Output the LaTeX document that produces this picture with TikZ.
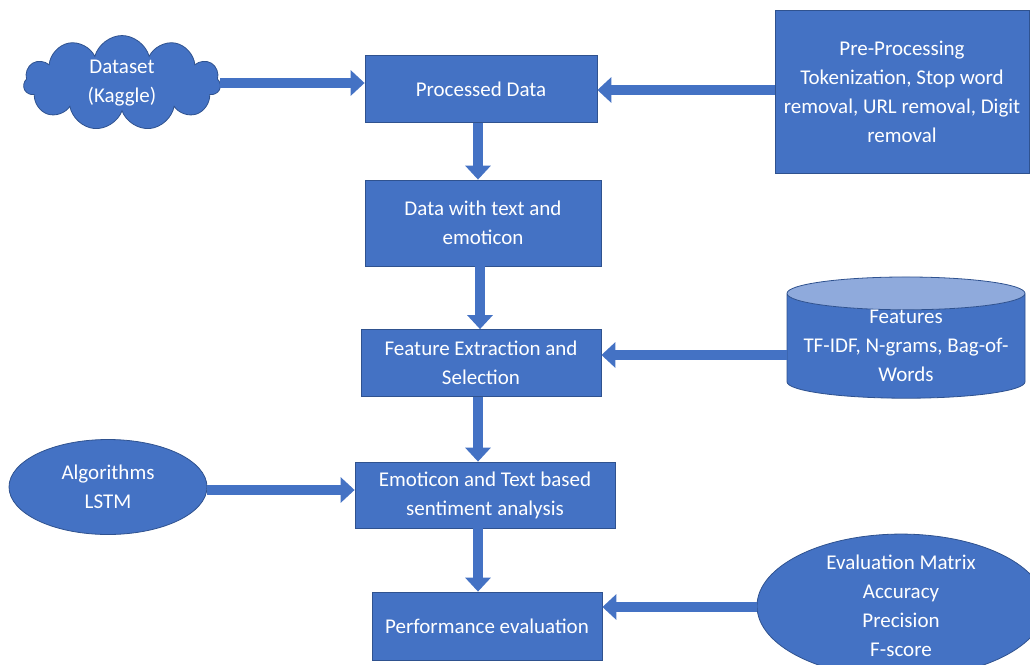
\documentclass[tikz,border=0pt]{standalone}
\usepackage{fontspec}
\setmainfont{Carlito}
\usetikzlibrary{arrows.meta,shapes.geometric,shapes.symbols}

\definecolor{boxblue}{HTML}{4472C4}
\definecolor{edgeblue}{HTML}{2F528F}
\definecolor{lidblue}{HTML}{8FAADC}

\tikzset{
  stagebox/.style={rectangle,draw=edgeblue,fill=boxblue,text=white,align=center,
    font=\fontsize{21}{29}\selectfont,line width=0.8pt},
  flowarrow/.style={draw=boxblue,line width=10pt,-{Triangle[width=25pt,length=14pt]}},
}

\begin{document}
\begin{tikzpicture}[x=1pt,y=-1pt]
  \useasboundingbox (0,0) rectangle (1030,664);

  % main column
  \node[stagebox,minimum width=232pt,minimum height=67pt] (procdata) at (481,89) {Processed Data};
  \node[stagebox,minimum width=236pt,minimum height=86pt] (textemo) at (483,223) {Data with text and\\emoticon};
  \node[stagebox,minimum width=240pt,minimum height=67pt] (featsel) at (481,363) {Feature Extraction and\\Selection};
  \node[stagebox,minimum width=260pt,minimum height=66pt] (sentiment) at (485,495) {Emoticon and Text based\\sentiment analysis};
  \node[stagebox,minimum width=230pt,minimum height=68pt] (perfeval) at (487,626) {Performance evaluation};

  % side inputs
  \node[stagebox,shape=cloud,cloud puffs=11,aspect=2.3,inner sep=0pt,
        minimum width=197pt,minimum height=85pt] (dataset) at (122,83) {Dataset\\(Kaggle)};
  \node[stagebox,minimum width=254pt,minimum height=163pt] (preproc) at (902,92)
        {Pre-Processing\\Tokenization, Stop word\\removal, URL removal, Digit\\removal};
  \node[stagebox,fill=none,shape=cylinder,shape border rotate=90,aspect=0.16,inner sep=0pt,
        cylinder uses custom fill,cylinder body fill=boxblue,cylinder end fill=lidblue,
        minimum width=238pt,minimum height=116pt] (features) at (906,346)
        {Features\\TF-IDF, N-grams, Bag-of-\\Words};
  \node[stagebox,shape=ellipse,inner sep=0pt,minimum width=198pt,minimum height=95pt] (algos) at (108,487) {Algorithms\\LSTM};
  \node[stagebox,shape=ellipse,inner sep=0pt,minimum width=288pt,minimum height=126pt] (evalmat) at (901,606)
        {Evaluation Matrix\\Accuracy\\Precision\\F-score};

  % connectors
  \draw[flowarrow] (dataset.east |- 0,83) -- (procdata.west |- 0,83);
  \draw[flowarrow] (preproc.west |- 0,90) -- (procdata.east |- 0,90);
  \draw[flowarrow] (procdata.south -| 478,0) -- (textemo.north -| 478,0);
  \draw[flowarrow] (textemo.south -| 480,0) -- (featsel.north -| 480,0);
  \draw[flowarrow] (features.west |- 0,355) -- (featsel.east |- 0,355);
  \draw[flowarrow] (featsel.south -| 478,0) -- (sentiment.north -| 478,0);
  \draw[flowarrow] (algos.east |- 0,490) -- (sentiment.west |- 0,490);
  \draw[flowarrow] (sentiment.south -| 478,0) -- (perfeval.north -| 478,0);
  \draw[flowarrow] (evalmat.west |- 0,607) -- (perfeval.east |- 0,607);
\end{tikzpicture}
\end{document}
